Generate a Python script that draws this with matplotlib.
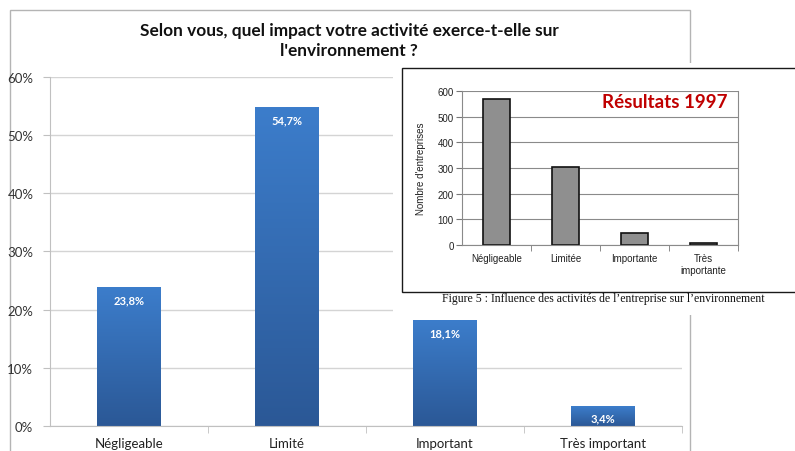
import numpy as np
import matplotlib.pyplot as plt
from matplotlib.patches import Rectangle
from matplotlib.colors import LinearSegmentedColormap

# main chart (current survey)
categories = ["Négligeable", "Limité", "Important", "Très important"]
shares = [0.238, 0.547, 0.181, 0.034]
share_labels = ["23,8%", "54,7%", "18,1%", "3,4%"]
y_ticks = [0.0, 0.1, 0.2, 0.3, 0.4, 0.5, 0.6]
y_tick_labels = ["0%", "10%", "20%", "30%", "40%", "50%", "60%"]
title = "Selon vous, quel impact votre activité exerce-t-elle sur\nl'environnement ?"

# scanned 1997 chart
old_categories = ["Négligeable", "Limitée", "Importante", "Très\nimportante"]
old_counts = [570, 305, 45, 8]
old_ticks = [0, 100, 200, 300, 400, 500, 600]
caption = "Figure 5 : Influence des activités de l’entreprise sur l’environnement"

W, H = 795, 452
plt.rcParams['font.family'] = ['Lato', 'DejaVu Sans']


def box(x0, y0, x1, y1):
    # pixel rectangle (top-left origin) -> figure fraction
    return [x0 / W, 1 - y1 / H, (x1 - x0) / W, (y1 - y0) / H]


fig = plt.figure(figsize=(W / 100, H / 100), dpi=100)

# outer chart frame
fig.add_artist(Rectangle((10 / W, -0.1), 680 / W, 1.1 - 11 / H, transform=fig.transFigure,
                         fill=False, edgecolor='#b4b4b4', lw=1, zorder=0))

fig.text(349 / W, 1 - 41 / H, title, ha='center', va='center', fontsize=12.4,
         fontweight='bold', color='#111111', linespacing=1.35)

ax = fig.add_axes(box(50, 78, 682, 427))
x = np.arange(len(categories))
blues = LinearSegmentedColormap.from_list('blues', ['#2b5896', '#3c7dcb'])
grad = np.linspace(0, 1, 200).reshape(-1, 1)
bars = ax.bar(x, shares, width=0.4, color='none', zorder=2)
for b, lab in zip(bars, share_labels):
    bx, bw, bh = b.get_x(), b.get_width(), b.get_height()
    ax.imshow(grad, extent=[bx, bx + bw, 0, bh], origin='lower', cmap=blues,
              aspect='auto', zorder=2)
    ax.annotate(lab, (bx + bw / 2, bh), xytext=(0, -8.5), textcoords='offset points',
                ha='center', va='center', color='white', fontsize=8, fontweight='bold')
ax.set_xlim(-0.5, 3.5)
ax.set_ylim(0, 0.6)
ax.set_yticks(y_ticks)
ax.set_yticklabels(y_tick_labels)
ax.set_xticks(x)
ax.set_xticklabels(categories)
ax.set_xticks(list(x + 0.5), minor=True)
ax.tick_params(axis='x', which='major', length=0, pad=8, labelsize=9.5, labelcolor='#222222')
ax.tick_params(axis='x', which='minor', length=5, color='#c0c0c0')
ax.tick_params(axis='y', length=5, color='#c0c0c0', labelsize=9.5, labelcolor='#333333', pad=7)
ax.yaxis.grid(True, color='#d4d4d4', lw=1)
ax.set_axisbelow(True)
for s in ['top', 'right']:
    ax.spines[s].set_visible(False)
for s in ['left', 'bottom']:
    ax.spines[s].set_color('#c0c0c0')

# pasted scan of the 1997 chart
fig.add_artist(Rectangle((393 / W, 1 - 316 / H), (800 - 393) / W, (316 - 64) / H,
                         transform=fig.transFigure, facecolor='white', edgecolor='none', zorder=5))
fig.add_artist(Rectangle((402 / W, 1 - 293 / H), (800 - 402) / W, (293 - 69) / H,
                         transform=fig.transFigure, facecolor='white', edgecolor='#1a1a1a',
                         lw=1, zorder=6))

ax2 = fig.add_axes(box(462, 92, 738, 246))
ax2.set_zorder(7)
ox = np.arange(len(old_categories))
ax2.bar(ox, old_counts, width=0.4, color='#8f8f8f', edgecolor='#111111', lw=1.2, zorder=2)
ax2.set_xlim(-0.5, 3.5)
ax2.set_ylim(0, 600)
ax2.set_yticks(old_ticks)
ax2.set_xticks(ox)
ax2.set_xticklabels(old_categories, family=['Liberation Sans'])
ax2.set_xticks(list(ox + 0.5), minor=True)
ax2.tick_params(axis='x', which='major', length=0, pad=6, labelsize=7, labelcolor='#222222')
ax2.tick_params(axis='x', which='minor', length=4, color='#777777')
ax2.tick_params(axis='y', length=4, color='#777777', labelsize=7, labelcolor='#222222', pad=2)
for t in ax2.get_yticklabels():
    t.set_family(['Liberation Sans'])
ax2.set_ylabel("Nombre d'entreprises", fontsize=7, family=['Liberation Sans'],
               color='#222222', labelpad=8)
ax2.yaxis.grid(True, color='#8a8a8a', lw=0.8)
ax2.set_axisbelow(True)
for s in ax2.spines.values():
    s.set_color('#8a8a8a')
    s.set_linewidth(0.8)
ax2.spines['top'].set_visible(False)

fig.text(665 / W, 1 - 103 / H, "Résultats 1997", ha='center', va='center', fontsize=13.5,
         fontweight='bold', color='#c00000', zorder=8)
fig.text(603 / W, 1 - 299 / H, caption, ha='center', va='center', fontsize=8.5,
         family=['Liberation Serif'], color='#111111', zorder=8)

fig.savefig("out.png", dpi=100)
